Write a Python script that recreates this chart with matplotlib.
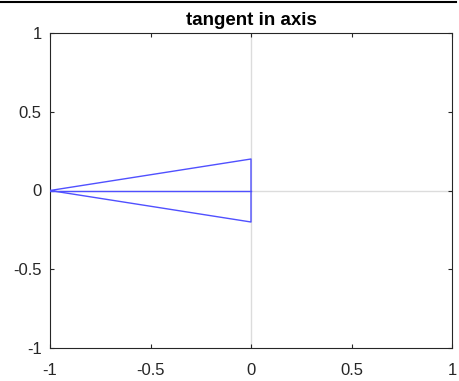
import matplotlib
matplotlib.use("Agg")
import matplotlib.pyplot as plt
from matplotlib.lines import Line2D

plt.rcParams['font.family'] = ['Liberation Sans', 'DejaVu Sans']

# triangle outline and center line
tri_x = [-1, 0, 0, -1]
tri_y = [0, 0.2, -0.2, 0]
mid_x = [-1, 0]
mid_y = [0, 0]

ticks = [-1, -0.5, 0, 0.5, 1]
tick_labels = ['-1', '-0.5', '0', '0.5', '1']

fig = plt.figure(figsize=(4.59, 3.81), dpi=100)
ax = fig.add_axes([50 / 459, 33 / 381, 402 / 459, 315 / 381])

ax.axhline(0, color='#dcdcdc', lw=1, zorder=1)
ax.axvline(0, color='#dcdcdc', lw=1, zorder=1)
ax.plot(tri_x, tri_y, color='#5050ff', lw=1, zorder=3)
ax.plot(mid_x, mid_y, color='#5050ff', lw=1, zorder=3)

ax.set_xlim(-1, 1)
ax.set_ylim(-1, 1)
ax.set_xticks(ticks)
ax.set_xticklabels(tick_labels)
ax.set_yticks(ticks)
ax.set_yticklabels(tick_labels)
ax.tick_params(direction='in', length=3, width=0.8, colors='#262626',
               labelsize=12, top=True, right=True)
ax.tick_params(axis='x', pad=10.5)
ax.tick_params(axis='y', pad=6)
for s in ax.spines.values():
    s.set_color('#262626')
    s.set_linewidth(0.8)
ax.set_title('tangent in axis', fontsize=13.5, fontweight='bold', pad=6)

# border line at top of the figure
fig.add_artist(Line2D([0, 456 / 459], [1 - 2 / 381, 1 - 2 / 381],
                      transform=fig.transFigure, color='black', lw=1.5))

fig.savefig('out.png', dpi=100)
